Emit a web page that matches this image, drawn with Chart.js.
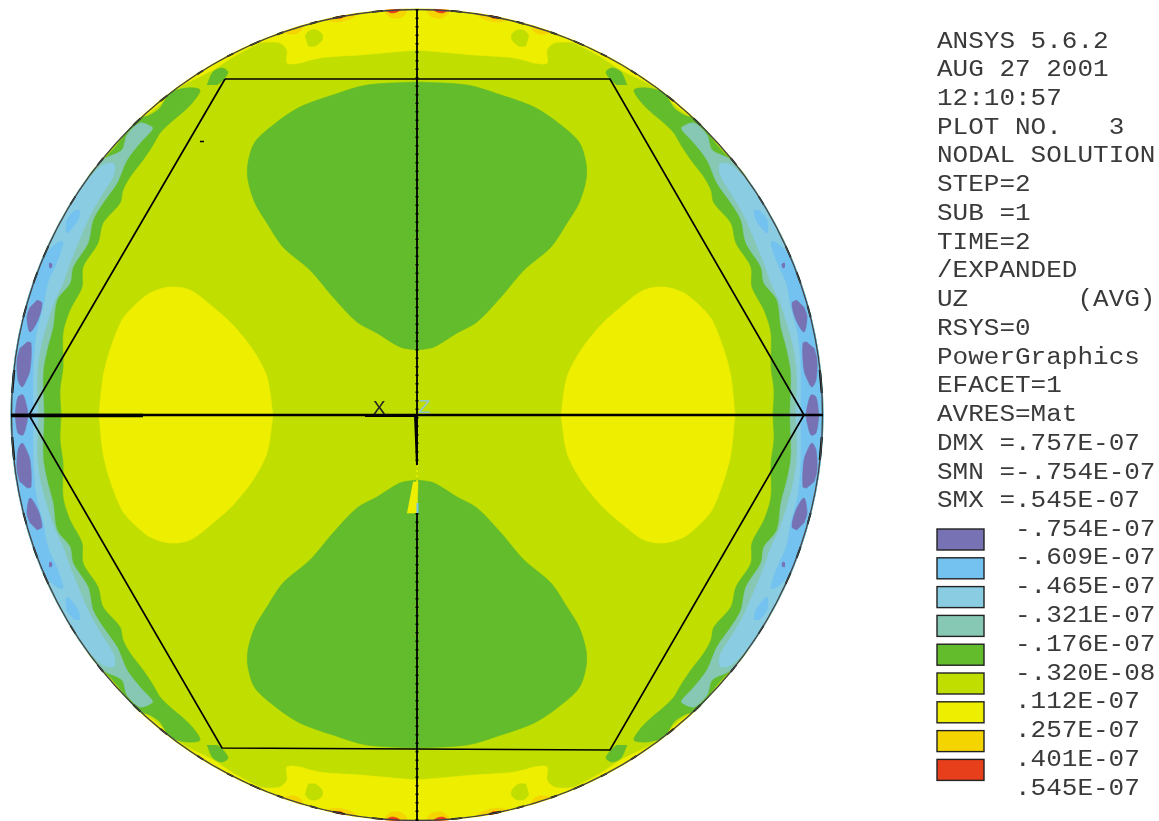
<!DOCTYPE html>
<html>
<head>
<meta charset="utf-8">
<style>html,body{margin:0;padding:0;background:#fff}canvas{display:block}</style>
<script src="https://cdn.jsdelivr.net/npm/chart.js@4"></script>
</head>
<body>
<canvas id="c" width="1159" height="821"></canvas>
<script>
// Panel text
const infoLines = ["ANSYS 5.6.2","AUG 27 2001","12:10:57","PLOT NO.   3","NODAL SOLUTION","STEP=2","SUB =1","TIME=2","/EXPANDED","UZ       (AVG)","RSYS=0","PowerGraphics","EFACET=1","AVRES=Mat","DMX =.757E-07","SMN =-.754E-07","SMX =.545E-07"];
const legendLabels = ["-.754E-07","-.609E-07","-.465E-07","-.321E-07","-.176E-07","-.320E-08",".112E-07",".257E-07",".401E-07",".545E-07"];
const legendColors = ["#7772B3","#73C2F0","#8ACDE3","#87C8B4","#62BC2C","#C0DE00","#EEEE00","#F5D500","#E73F1B"];

// Contour outlines, read for one quadrant (the field is symmetric about both axes)
const discRadius = [406];
const yellowRim = [[0,365],[-24,363],[-57,360],[-90,358],[-107,355],[-117,352],[-130,352],[-130,365],[-137,372],[-150,373],[-157,372],[-184,358],[-204,345],[-230,332],[-244,323],[-260,308],[-274,298],[-284,292],[-300,290],[-200,400],[0,420]];
const limeIsland = [[-112,379],[-108,384],[-101,385],[-95,381],[-95,375],[-102,369],[-109,369]];
const orangeA = [[-32,402],[-25,397],[-15,398],[-10,404],[-10,415],[-32,415]];
const orangeB = [[-92,395],[-80,393],[-67,396],[-59,402],[-59,413],[-92,413]];
const orangeC = [[-134,382],[-122,381],[-115,386],[-115,400],[-134,400]];
const redA = [[-32,405],[-25,402],[-17,405],[-17,413],[-32,413]];
const redB = [[-84,398],[-77,396.5],[-72,400],[-72,410],[-84,410]];
const greenRim = [[-417,0],[-417,150],[-337,235],[-317,252],[-300,270],[-280,295],[-267,300],[-257,307],[-247,322],[-230,327],[-217,325],[-224,313],[-234,303],[-247,292],[-257,282],[-264,270],[-274,255],[-287,238],[-294,225],[-297,212],[-314,192],[-319,172],[-334,148],[-335,128],[-347,105],[-354,82],[-354,48],[-357,25],[-356,0]];
const greenDot = [[-210,330],[-204,343],[-195,347],[-189,343],[-194,335],[-200,330]];
const greenBlob = [[0,333],[-50,330],[-84,320],[-117,308],[-140,293],[-162,273],[-169,252],[-169,235],[-162,212],[-150,192],[-134,168],[-107,145],[-84,118],[-60,93],[-40,82],[-17,68],[0,65]];
const yellowBlob = [[-144,0],[-150,38],[-164,65],[-184,90],[-204,108],[-227,125],[-247,128],[-267,122],[-284,108],[-295,95],[-307,65],[-314,38],[-318,0]];
const tealRim = [[-417,0],[-417,150],[-340,225],[-314,255],[-295,265],[-290,280],[-277,292],[-265,288],[-265,285],[-277,272],[-290,255],[-300,232],[-314,212],[-324,195],[-329,172],[-344,148],[-347,132],[-360,115],[-364,88],[-370,65],[-374,42],[-373,0]];
const skyRim = [[-417,0],[-417,100],[-350,215],[-327,238],[-314,250],[-304,252],[-302,248],[-304,238],[-314,222],[-324,205],[-330,193],[-347,152],[-354,132],[-362,115],[-369,95],[-377,65],[-380,38],[-379,0]];
const blueIsland = [[-337,205],[-339,195],[-350,182],[-350,195],[-342,205]];
const blueRim = [[-417,0],[-417,100],[-395,130],[-374,158],[-360,172],[-354,173],[-360,153],[-369,133],[-374,108],[-381,80],[-384,45],[-384,0]];
const purpleA = [[-380,115],[-375,112],[-379,95],[-387,83],[-390,98],[-387,108]];
const purpleB = [[-390,73],[-386,72],[-387,45],[-392,32],[-395,28],[-399,35],[-400,55],[-397,67]];
const purpleC = [[-402,0],[-399,18],[-394,20],[-390,7],[-389,0]];
const purpleDot = [[-368,152],[-365,151],[-366,147],[-368,148]];

// Rough black fragments on the rim
const rimMarks = [[[-45,403.5],[-34,404.6]],[[-84,397],[-72,399.6]],[[-107,391.6],[-100,393.5]],[[-140,381],[-134,383]],[[-167,370],[-157,374.4]],[[-190,358.8],[-184,362]],[[-220,341],[-214,345]],[[-257,314],[-250,320]],[[-284,290],[-277,297]],[[-320,250],[-314,257]],[[-347,211],[-342,219]],[[-374,158],[-369,169]],[[-384,132],[-380,143]],[[-394,98],[-391,109]],[[-403,45],[-405,22]]];

// Model lines
const hexagon = [[-192,336],[193,336],[387,0],[193,-335],[-195,-333],[-388,0],[-192,336]];
const axisX = [[-406,0],[406,0]];
const axisXHeavy = [[-406,-0.5],[-274,-0.5]];
const axisXStub = [[-52,-0.5],[0,-0.5]];
const axisYUpper = [[0,406],[0,-50]];
const axisYLower = [[0,-98],[0,-406]];
const centreWedge = [[-3,0],[0,0],[0,-50],[-1,-50]];
const yellowSpike = [[-4,-67],[1,-67],[0,-98],[-10,-98]];
const blueSpike = [[0.5,-88],[0.5,-98]];
const faintSpike = [[0,-50],[0,-67]];
const tickMark = [[-217,273.5],[-213,273.5]];

const pts = a => a.map(p => ({x:p[0], y:p[1]}));
const flipX = a => a.map(p => [-p[0], p[1]]);
const flipY = a => a.map(p => [p[0], -p[1]]);
const quad = a => [a, flipX(a), flipY(a), flipX(flipY(a))];

const ds = [];
const poly = (a, color, smooth) => ds.push({type:'scatter', data:pts(a), showLine:true, fill:'shape', backgroundColor:color, borderColor:color, borderWidth:0.6, pointRadius:0, tension:smooth||0});
const line = (a, color, w, dash) => ds.push({type:'scatter', data:pts(a), showLine:true, fill:false, borderColor:color, borderWidth:w, borderDash:dash||[], pointRadius:0});
const polys = (a, color) => quad(a).forEach(q => poly(q, color, 0.3));

const [cPurple,cBlue,cSky,cTeal,cGreen,cLime,cYellow,cOrange,cRed] = legendColors;

ds.push({type:'bubble', data:[{x:0,y:0,r:discRadius[0]}], backgroundColor:cLime, borderWidth:0});
polys(yellowRim, cYellow);
polys(limeIsland, cLime);
[orangeA,orangeB,orangeC].forEach(a => polys(a, cOrange));
[redA,redB].forEach(a => polys(a, cRed));
polys(greenRim, cGreen);
polys(greenDot, cGreen);
polys(greenBlob, cGreen);
polys(yellowBlob, cYellow);
polys(tealRim, cTeal);
polys(skyRim, cSky);
polys(blueRim, cBlue);
polys(blueIsland, cBlue);
[purpleA,purpleB,purpleC,purpleDot].forEach(a => polys(a, cPurple));
poly(yellowSpike, cYellow);
line(blueSpike, cBlue, 2);
line(faintSpike, cYellow, 1.5, [2,3]);
rimMarks.forEach(m => quad(m).forEach(q => line(q, '#000', 2.6)));
ds.push({type:'bubble', data:[{x:0,y:0,r:discRadius[0]-0.5}], backgroundColor:'rgba(0,0,0,0)', borderColor:'#444', borderWidth:1.4});
line(hexagon, '#000', 1.7);
line(axisX, '#000', 2.6);
line(axisXHeavy, '#000', 3.6);
line(axisXStub, '#000', 3.2);
line(axisYUpper, '#000', 1.8);
line(axisYLower, '#000', 1.8);
line(axisYUpper, '#000', 3, [1.5,7]);
line(axisYLower, '#000', 3, [1.5,7]);
poly(centreWedge, '#000');
line(tickMark, '#000', 1.5);
ds.forEach((d,i) => { d.order = ds.length - i; d.clip = false; });

const discClip = {
  id:'discClip',
  beforeDatasetsDraw(chart){
    const c = chart.ctx, sx = chart.scales.x, sy = chart.scales.y;
    c.save(); c.beginPath();
    c.arc(sx.getPixelForValue(0), sy.getPixelForValue(0), discRadius[0] + 0.5, 0, Math.PI*2);
    c.clip();
  },
  afterDatasetsDraw(chart){ chart.ctx.restore(); }
};

const panel = {
  id:'panel',
  afterDraw(chart){
    const c = chart.ctx;
    const squash = 0.9;
    const put = (t, x, y) => { c.save(); c.translate(x, y); c.scale(1, squash); c.fillText(t, 0, 0); c.restore(); };
    c.save();
    c.font = '26px "Liberation Mono"';
    c.textBaseline = 'alphabetic';
    c.fillStyle = '#3a3a3a';
    infoLines.forEach((t,i) => put(t, 937, 47.5 + 28.74*i));
    legendLabels.forEach((t,i) => put(t, 1015, 535.5 + 28.83*i));
    legendColors.forEach((col,i) => {
      const y = 529 + 28.8*i;
      c.fillStyle = col; c.fillRect(937, y, 47, 21);
      c.strokeStyle = '#222'; c.lineWidth = 1.4; c.strokeRect(937, y, 47, 21);
    });
    c.font = '21px "Liberation Mono"';
    c.fillStyle = '#222'; c.fillText('X', 373, 414);
    c.fillStyle = '#93C8C4'; c.fillText('Z', 418, 413);
    c.restore();
  }
};

new Chart(document.getElementById('c'), {
  type:'scatter',
  data:{datasets:ds},
  options:{
    responsive:false, animation:false, events:[],
    layout:{padding:0, autoPadding:false},
    scales:{
      x:{type:'linear', min:-417, max:742, display:false},
      y:{type:'linear', min:-406, max:415, display:false}
    },
    plugins:{legend:{display:false}, tooltip:{enabled:false}, title:{display:false}}
  },
  plugins:[discClip, panel]
});
</script>
</body>
</html>
